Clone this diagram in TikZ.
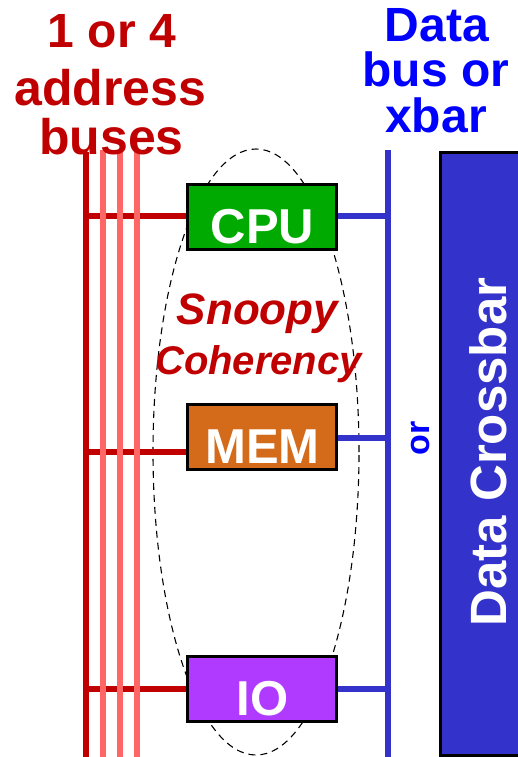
\documentclass[tikz,border=0pt]{standalone}
\usepackage{fontspec}
\setmainfont{Liberation Sans}
\usetikzlibrary{shapes.geometric}
\definecolor{addrred}{HTML}{C00000}
\definecolor{addrpink}{HTML}{FF6666}
\definecolor{busblue}{HTML}{3333CC}
\definecolor{textblue}{HTML}{0000FF}
\definecolor{cpugreen}{HTML}{00AA00}
\definecolor{memorange}{HTML}{D46B1A}
\definecolor{iopurple}{HTML}{B03AFF}
\begin{document}
\begin{tikzpicture}[x=1pt,y=-1pt,
  titletext/.style={font=\fontsize{48pt}{48pt}\selectfont\bfseries, anchor=base, inner sep=0pt},
  bigtitle/.style={font=\fontsize{50pt}{50pt}\selectfont\bfseries, anchor=base, inner sep=0pt},
  unitbox/.style={draw=black, line width=3pt, minimum width=149pt, minimum height=65pt, inner sep=0pt},
  unittext/.style={text=white, font=\fontsize{49pt}{49pt}\selectfont\bfseries, anchor=base, inner sep=0pt},
  abus/.style={addrred, line width=6pt},
  pbus/.style={addrpink, line width=5.5pt},
  dbusline/.style={busblue, line width=5.5pt},
  snooptext/.style={text=addrred, anchor=base, inner sep=0pt},
  ring/.style={black, line width=1.1pt, dash pattern=on 7pt off 5pt}
]
\useasboundingbox (0,0) rectangle (518,757);

% snoopy ellipse
\node[ring, draw, ellipse, minimum width=206pt, minimum height=606pt, inner sep=0pt] (snoop) at (256,452) {};

% bus coordinates
\coordinate (atop) at (86,152);
\coordinate (abot) at (86,762);
\coordinate (p1top) at (103,150);
\coordinate (p1bot) at (103,762);
\coordinate (p2top) at (120,150);
\coordinate (p2bot) at (120,762);
\coordinate (p3top) at (137,150);
\coordinate (p3bot) at (137,762);
\coordinate (dtop) at (388,150);
\coordinate (dbot) at (388,762);

% units
\node[unitbox, fill=cpugreen] (cpu) at (262,216.5) {};
\node[unitbox, fill=memorange] (mem) at (262,437) {};
\node[unitbox, fill=iopurple] (io) at (262,688.5) {};

\coordinate (ra) at (86,216);
\coordinate (rb) at (86,452);
\coordinate (rc) at (86,689);
\coordinate (ba) at (388,216);
\coordinate (bb) at (388,438);
\coordinate (bc) at (388,689);

% address bus
\draw[abus] (atop) -- (abot);
\draw[abus] (ra) -- (ra -| cpu.west);
\draw[abus] (rb) -- (rb -| mem.west);
\draw[abus] (rc) -- (rc -| io.west);
\draw[pbus] (p1top) -- (p1bot);
\draw[pbus] (p2top) -- (p2bot);
\draw[pbus] (p3top) -- (p3bot);

% data bus
\draw[dbusline] (dtop) -- (dbot);
\draw[dbusline] (ba -| cpu.east) -- (ba);
\draw[dbusline] (bb -| mem.east) -- (bb);
\draw[dbusline] (bc -| io.east) -- (bc);

% redraw boxes on top
\node[unitbox, fill=cpugreen] (cpu2) at (262,216.5) {};
\node[unitbox, fill=memorange] (mem2) at (262,437) {};
\node[unitbox, fill=iopurple] (io2) at (262,688.5) {};
\node[unittext] (cputxt) at (262.5,243) {CPU};
\node[unittext] (memtxt) at (262.5,463) {MEM};
\node[unittext] (iotxt) at (262.5,715) {IO};

% titles
\node[titletext, text=addrred] (t1) at (112,48) {1 or 4};
\node[bigtitle, text=addrred] (t2) at (110.5,106) {address};
\node[bigtitle, text=addrred] (t3) at (111.5,154) {buses};
\node[titletext, text=textblue] (d1) at (437,42) {Data};
\node[titletext, text=textblue] (d2) at (436,87) {bus or};
\node[titletext, text=textblue] (d3) at (436,132) {xbar};

% crossbar
\node[draw=black, line width=3pt, fill=busblue, anchor=north west, minimum width=100pt, minimum height=603pt, inner sep=0pt] (xbar) at (438.5,150.5) {};
\node[text=white, font=\fontsize{51pt}{51pt}\selectfont\bfseries, rotate=90, anchor=base, inner sep=0pt] (xbartxt) at (506,452) {Data Crossbar};
\node[text=textblue, font=\fontsize{34pt}{34pt}\selectfont\bfseries, rotate=90, anchor=base, inner sep=0pt] (ortxt) at (429,438) {or};

% snoopy text
\node[snooptext, font=\fontsize{44pt}{44pt}\selectfont\bfseries\itshape] (s1) at (257.5,324) {Snoopy};
\node[snooptext, font=\fontsize{40pt}{40pt}\selectfont\bfseries\itshape] (s2) at (258.5,374) {Coherency};
\end{tikzpicture}
\end{document}
